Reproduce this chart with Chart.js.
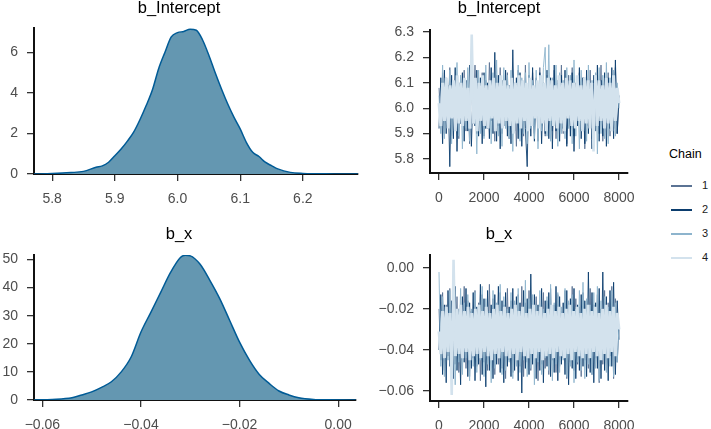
<!DOCTYPE html>
<html>
<head>
<meta charset="utf-8">
<script src="https://cdn.jsdelivr.net/npm/chart.js@4.4.1/dist/chart.umd.min.js"></script>
<style>
  body { margin: 0; background: #fff; width: 711px; height: 429px; position: relative; overflow: hidden;
         font-family: "Liberation Sans", Arial, sans-serif; }
  canvas { position: absolute; }
  .lg { position: absolute; line-height: 1; }
  .lg.ttl { font-size: 12.5px; color: #000; }
  .lg.num { font-size: 11px; color: #1a1a1a; }
  .lg.ln { width: 21px; height: 1.6px; }
</style>
</head>
<body>
<canvas id="densInt" width="362" height="210" style="left:0;top:0"></canvas>
<canvas id="traceInt" width="290" height="210" style="left:370px;top:0"></canvas>
<canvas id="densX" width="362" height="203" style="left:0;top:226px"></canvas>
<canvas id="traceX" width="290" height="203" style="left:370px;top:226px"></canvas>
<div id="legend"></div>
<script>
// density of b_Intercept (x = value, y = density)
const intDensX = [5.771, 5.80, 5.83, 5.85, 5.87, 5.88, 5.89, 5.90, 5.91, 5.92,
  5.93, 5.94, 5.95, 5.96, 5.97, 5.98, 5.99, 6.00, 6.01, 6.02,
  6.03, 6.04, 6.05, 6.06, 6.07, 6.08, 6.09, 6.10, 6.11, 6.12,
  6.13, 6.14, 6.15, 6.16, 6.18, 6.20, 6.25, 6.288];
const intDensY = [0.0, 0.02, 0.07, 0.13, 0.33, 0.40, 0.58, 0.90, 1.23, 1.62,
  2.06, 2.67, 3.37, 4.15, 5.2, 6.0, 6.75, 6.96, 7.02, 7.13,
  7.08, 6.6, 5.85, 5.0, 4.2, 3.46, 2.8, 2.22, 1.55, 1.07,
  0.86, 0.58, 0.41, 0.25, 0.08, 0.03, 0.005, 0.0];

// density of b_x
const bxDensX = [-0.0617, -0.058, -0.054, -0.052, -0.050, -0.048, -0.046, -0.044, -0.042, -0.040,
  -0.038, -0.036, -0.034, -0.032, -0.031, -0.030, -0.028, -0.026, -0.024, -0.022,
  -0.020, -0.018, -0.016, -0.014, -0.012, -0.010, -0.008, -0.005, -0.002, 0.0036];
const bxDensY = [0, 0.2, 0.8, 1.8, 2.9, 4.5, 6.5, 10.0, 15.3, 24.2,
  31.2, 38.3, 45.4, 50.7, 51.5, 51.3, 48.3, 42.5, 36.0, 28.3,
  20.6, 14.2, 9.1, 5.9, 3.2, 1.8, 0.8, 0.2, 0.05, 0];

// trace draws (thinned), iterations 0..8000
const chains = ['1', '2', '3', '4'];
const chainColors = ['#5b7394', '#0b3d6e', '#8db4cd', '#d3e2ed'];
const iterTicks = [0, 2000, 4000, 6000, 8000];
const intTicksY = [0, 2, 4, 6];

const intChain1 = [6.08,5.95,6.14,5.90,6.11,5.97,6.16,5.89,6.05,5.93,6.13,5.88,6.10,5.96,6.15,5.91,6.07,5.86,6.12,5.94,6.17,5.90,6.09,5.97,6.14,5.89,6.11,5.92,6.18,5.95,6.06,5.87,6.13,5.93,6.16,5.90,6.10,5.96,6.14,5.88,6.12,5.91,6.08,5.85,6.15,5.94,6.11,5.89,6.17,5.92,6.09,5.96,6.14,5.90,6.12,5.87,6.16,5.93,6.10,5.89,6.13,5.95,6.08,5.91,6.15,5.88,6.11,5.94,6.17,5.90,6.07,5.86,6.13,5.92,6.16,5.89,6.10,5.95,6.14,5.91,6.12,5.84,6.09,5.93,6.15,5.88,6.11,5.96,6.13,5.90,6.17,5.87,6.08,5.94,6.14,5.89,6.12,5.92,6.16,5.90,6.03];
const intChain2 = [5.92,6.12,5.86,6.15,5.90,6.09,5.77,6.13,5.88,6.16,5.83,6.10,5.94,6.14,5.87,6.11,5.91,6.17,5.85,6.08,5.93,6.15,5.89,6.12,5.86,6.14,5.92,6.10,5.88,6.16,5.90,6.22,5.87,6.13,5.84,6.11,5.93,6.15,5.89,6.09,5.86,6.23,5.91,6.12,5.88,6.14,5.85,6.10,5.92,5.77,6.13,5.89,6.16,5.87,6.11,5.93,6.14,5.86,6.09,5.90,6.15,5.88,6.12,5.84,6.17,5.91,6.10,5.87,6.13,5.92,6.15,5.85,6.11,5.89,6.14,5.83,6.08,5.93,6.16,5.88,6.12,5.86,6.15,5.90,6.10,5.84,6.13,5.91,6.17,5.87,6.11,5.89,6.14,5.85,6.12,5.92,6.16,5.88,6.19,5.90,6.05];
const intChain3 = [6.05,5.90,6.17,5.88,6.12,5.93,6.15,5.86,6.10,5.95,6.18,5.89,6.13,5.84,6.11,5.92,6.16,5.87,6.14,5.94,6.09,5.82,6.15,5.90,6.12,5.88,6.17,5.93,6.10,5.86,6.14,5.91,6.19,5.89,6.11,5.85,6.16,5.92,6.13,5.88,6.15,5.83,6.10,5.94,6.17,5.87,6.12,5.90,6.14,5.86,6.18,5.92,6.11,5.88,6.15,5.84,6.13,5.91,6.16,6.24,5.89,6.25,5.87,6.12,5.93,6.17,5.85,6.14,5.90,6.11,5.88,6.16,5.92,6.13,5.86,6.19,5.89,6.10,5.84,6.15,5.91,6.12,5.87,6.17,5.93,6.11,5.85,6.14,5.82,6.16,5.90,6.13,5.88,6.18,5.86,6.12,5.91,6.15,5.89,6.10,6.00];
const intChain4 = [6.02,5.93,6.10,5.95,6.12,5.92,6.09,5.96,6.11,5.91,6.13,5.94,6.10,5.93,6.12,5.95,6.08,5.92,6.29,5.94,6.12,5.91,6.10,5.95,6.13,5.93,6.09,5.92,6.11,5.96,6.12,5.91,6.10,5.94,6.13,5.92,6.11,5.95,6.09,5.93,6.12,5.90,6.10,5.94,6.13,5.92,6.11,5.95,6.10,5.91,6.12,5.93,6.09,5.96,6.11,5.92,6.13,5.94,6.10,5.91,6.12,5.95,6.11,5.93,6.09,5.92,6.13,5.94,6.10,5.91,6.12,5.96,6.11,5.93,6.10,5.92,6.13,5.95,6.09,5.91,6.12,5.94,6.11,5.92,6.10,5.83,6.13,5.93,6.11,5.95,6.09,5.92,6.12,5.94,6.10,5.91,6.13,5.95,6.08,6.02];

const bxChain1 = [-0.020,-0.045,-0.012,-0.050,-0.018,-0.043,-0.010,-0.054,-0.022,-0.047,-0.014,-0.051,-0.019,-0.042,-0.009,-0.049,-0.016,-0.053,-0.021,-0.044,-0.011,-0.048,-0.017,-0.055,-0.013,-0.046,-0.020,-0.050,-0.008,-0.043,-0.015,-0.052,-0.019,-0.047,-0.012,-0.049,-0.018,-0.054,-0.010,-0.045,-0.016,-0.051,-0.021,-0.044,-0.013,-0.048,-0.009,-0.053,-0.017,-0.046,-0.011,-0.050,-0.019,-0.043,-0.014,-0.055,-0.020,-0.047,-0.012,-0.049,-0.016,-0.052,-0.010,-0.045,-0.018,-0.051,-0.013,-0.048,-0.021,-0.044,-0.011,-0.054,-0.017,-0.046,-0.009,-0.050,-0.015,-0.047,-0.019,-0.053,-0.012,-0.045,-0.016,-0.049,-0.010,-0.052,-0.018,-0.044,-0.013,-0.056,-0.020,-0.047,-0.011,-0.050,-0.017,-0.043,-0.009,-0.054,-0.015,-0.046,-0.030];
const bxChain2 = [-0.040,-0.013,-0.052,-0.018,-0.056,-0.011,-0.048,-0.016,-0.054,-0.009,-0.050,-0.020,-0.057,-0.014,-0.046,-0.010,-0.053,-0.017,-0.049,-0.012,-0.055,-0.019,-0.047,-0.008,-0.052,-0.015,-0.058,-0.011,-0.050,-0.018,-0.054,-0.013,-0.047,-0.009,-0.051,-0.016,-0.056,-0.012,-0.048,-0.019,-0.053,-0.010,-0.050,-0.014,-0.055,-0.017,-0.061,-0.011,-0.049,-0.015,-0.052,-0.003,-0.047,-0.013,-0.054,-0.018,-0.050,-0.010,-0.056,-0.016,-0.048,-0.012,-0.053,-0.019,-0.051,-0.009,-0.055,-0.014,-0.047,-0.017,-0.052,-0.011,-0.057,-0.015,-0.049,-0.010,-0.054,-0.018,-0.050,-0.013,-0.048,-0.016,-0.053,-0.002,-0.051,-0.012,-0.056,-0.017,-0.049,-0.010,-0.054,-0.002,-0.050,-0.014,-0.055,-0.011,-0.048,-0.007,-0.052,-0.016,-0.035];
const bxChain3 = [-0.002,-0.048,-0.014,-0.053,-0.019,-0.045,-0.011,-0.050,-0.016,-0.057,-0.021,-0.046,-0.010,-0.052,-0.017,-0.044,-0.013,-0.055,-0.020,-0.048,-0.012,-0.051,-0.018,-0.045,-0.009,-0.053,-0.015,-0.047,-0.021,-0.056,-0.011,-0.049,-0.017,-0.044,-0.008,-0.052,-0.014,-0.050,-0.020,-0.046,-0.012,-0.054,-0.016,-0.048,-0.010,-0.051,-0.019,-0.045,-0.006,-0.053,-0.015,-0.049,-0.013,-0.057,-0.018,-0.046,-0.011,-0.052,-0.020,-0.044,-0.014,-0.050,-0.008,-0.055,-0.017,-0.047,-0.012,-0.051,-0.019,-0.045,-0.010,-0.053,-0.016,-0.048,-0.013,-0.056,-0.020,-0.046,-0.011,-0.050,-0.007,-0.054,-0.015,-0.047,-0.018,-0.052,-0.012,-0.049,-0.009,-0.055,-0.016,-0.045,-0.014,-0.051,-0.019,-0.048,-0.011,-0.053,-0.017,-0.046,-0.028];
const bxChain4 = [-0.031,-0.042,-0.021,-0.044,-0.019,-0.041,-0.022,-0.062,0.004,-0.043,-0.020,-0.042,-0.018,-0.044,-0.021,-0.041,-0.019,-0.045,-0.022,-0.043,-0.020,-0.042,-0.018,-0.044,-0.021,-0.041,-0.019,-0.043,-0.022,-0.045,-0.020,-0.042,-0.018,-0.044,-0.021,-0.041,-0.019,-0.043,-0.022,-0.044,-0.020,-0.042,-0.018,-0.045,-0.021,-0.041,-0.019,-0.043,-0.022,-0.044,-0.020,-0.042,-0.018,-0.044,-0.021,-0.041,-0.019,-0.045,-0.022,-0.043,-0.020,-0.042,-0.018,-0.044,-0.021,-0.041,-0.019,-0.043,-0.022,-0.044,-0.020,-0.042,-0.018,-0.045,-0.021,-0.041,-0.019,-0.043,-0.022,-0.044,-0.020,-0.042,-0.018,-0.044,-0.021,-0.041,-0.019,-0.043,-0.022,-0.045,-0.020,-0.042,-0.018,-0.044,-0.021,-0.041,-0.019,-0.043,-0.022,-0.030];

const lastIter = 8000;
const FONT = '"Liberation Sans", Arial, sans-serif';
const minus = v => v < 0 ? '\u2212' + Math.abs(v).toFixed(2) : v.toFixed(2);

function axis(opts, fit, isX) {
  return Object.assign({
    type: 'linear',
    grid: { drawOnChartArea: false, drawTicks: true, tickLength: 7, color: '#333', lineWidth: 1.3 },
    border: { display: true, color: '#111', width: 2 },
    afterFit: s => { if (isX) s.height = fit; else s.width = fit; }
  }, opts, {
    ticks: Object.assign({ color: '#4d4d4d', font: { family: FONT, size: 14 }, includeBounds: false,
      autoSkip: false, maxRotation: 0, padding: isX ? 10 : 9 }, opts.ticks)
  });
}

function panel(id, title, datasets, xOpts, yOpts, fits, titlePad, padRight) {
  return new Chart(document.getElementById(id), {
    type: 'line',
    data: { datasets },
    options: {
      responsive: false,
      animation: false,
      layout: { padding: { left: 0, right: padRight, top: 0, bottom: 0 } },
      plugins: {
        legend: { display: false },
        tooltip: { enabled: false },
        title: { display: true, text: title, color: '#000',
                 font: { family: FONT, size: 16.5, weight: 'normal', lineHeight: 1 },
                 padding: { top: 0, bottom: titlePad } }
      },
      elements: { point: { radius: 0 } },
      scales: {
        x: axis(xOpts, fits[1], true),
        y: axis(yOpts, fits[0], false)
      }
    }
  });
}

function densSet(xs, ys) {
  return [{
    data: xs.map((x, i) => ({ x, y: ys[i] })),
    borderColor: '#005b96', borderWidth: 1.5,
    backgroundColor: '#6497b1', fill: 'origin',
    cubicInterpolationMode: 'monotone'
  }];
}

// chain 4 is drawn on top and wide enough to fill the overplotted band;
// its rare excursions outside the band are drawn a bit thinner
function traceSets(series, band) {
  const inBand = v => v >= band[0] && v <= band[1];
  return series.map((vals, c) => ({
    label: chains[c],
    data: vals.map((y, i) => ({ x: i * lastIter / (vals.length - 1), y })),
    borderColor: chainColors[c], borderWidth: c === 3 ? 3 : 0.9, tension: 0,
    borderJoinStyle: 'bevel',
    segment: c === 3 ? {
      borderWidth: ctx => (inBand(ctx.p0.parsed.y) && inBand(ctx.p1.parsed.y)) ? 3 : 2.6
    } : undefined,
    order: series.length - 1 - c
  }));
}

const iterAxis = { min: -400, max: 8400,
  afterBuildTicks: s => { s.ticks = iterTicks.map(value => ({ value })); },
  ticks: { callback: v => String(v) } };

panel('densInt', 'b_Intercept', densSet(intDensX, intDensY),
  { min: 5.771, max: 6.288, ticks: { stepSize: 0.1, callback: v => v.toFixed(1) } },
  { min: 0, max: 7.19, afterBuildTicks: s => { s.ticks = intTicksY.map(value => ({ value })); } },
  [34, 36], 11.5, 4);

panel('traceInt', 'b_Intercept', traceSets([intChain1, intChain2, intChain3, intChain4], [5.89, 6.14]),
  iterAxis,
  { min: 5.745, max: 6.308, ticks: { stepSize: 0.1, callback: v => v.toFixed(1) } },
  [60, 37], 13.5, 32);

panel('densX', 'b_x', densSet(bxDensX, bxDensY),
  { min: -0.0617, max: 0.0036, ticks: { stepSize: 0.02, callback: minus } },
  { min: 0, max: 51.6, ticks: { stepSize: 10 } },
  [34, 29], 12.5, 4);

panel('traceX', 'b_x', traceSets([bxChain1, bxChain2, bxChain3, bxChain4], [-0.046, -0.017]),
  iterAxis,
  { min: -0.0649, max: 0.0063, ticks: { stepSize: 0.02, callback: minus } },
  [60, 28], 12.5, 32);

// legend
const legendRows = [185, 209, 233, 257];
let html = '<div class="lg ttl" style="left:669px;top:148px">Chain</div>';
chains.forEach((c, i) => {
  html += `<div class="lg ln" style="left:671px;top:${legendRows[i]}px;background:${chainColors[i]}"></div>`;
  html += `<div class="lg num" style="left:702px;top:${legendRows[i] - 5}px">${c}</div>`;
});
document.getElementById('legend').innerHTML = html;
</script>
</body>
</html>
